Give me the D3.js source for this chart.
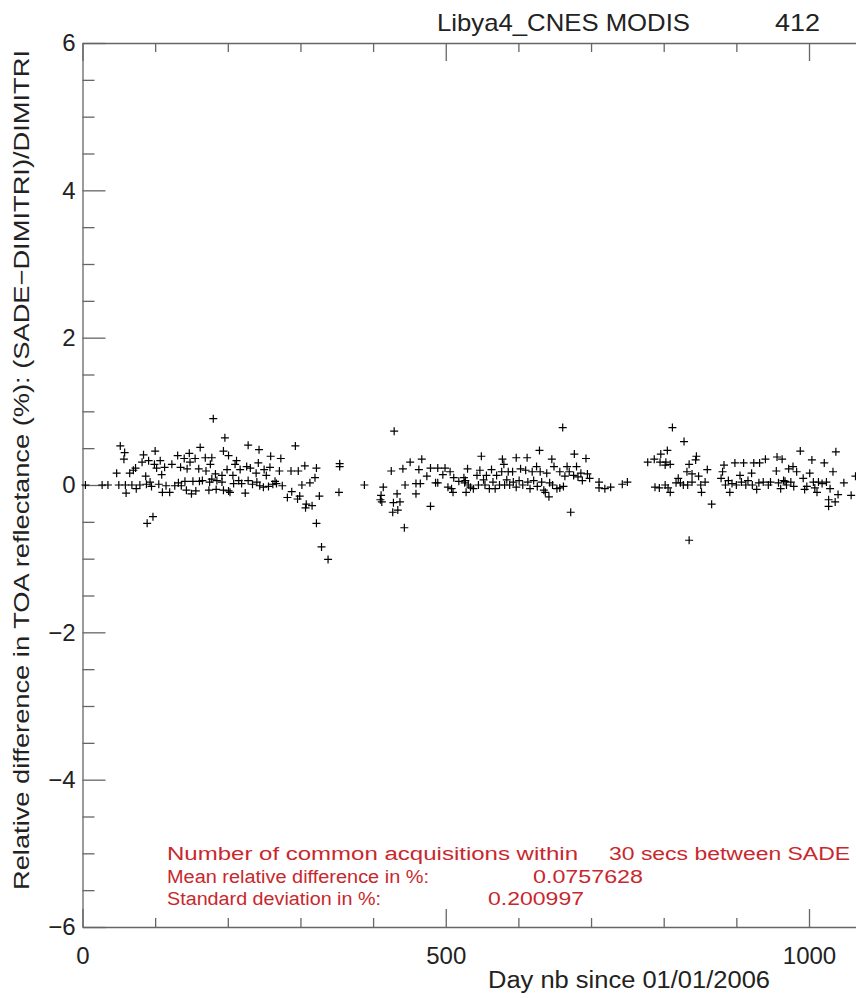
<!DOCTYPE html>
<html>
<head>
<meta charset="utf-8">
<script src="https://cdn.jsdelivr.net/npm/d3@7"></script>
<style>
  body { margin: 0; background: #fff; }
  svg { display: block; overflow: hidden; }
  text { font-family: "Liberation Sans", Arial, sans-serif; fill: #222; }
  .axis path, .axis line { stroke: #666; stroke-width: 1.3px; }
  .note text { fill: #c8282d; }
</style>
</head>
<body>
<script>
// ---- data ----
var days = [
  4, 27, 35, 52, 58, 57, 47, 50, 59, 60, 65, 68, 70, 73, 74, 79, 82, 84, 87, 88, 91, 89, 97, 93, 95,
  100, 99, 102, 107, 105, 109, 110, 113, 115, 120, 123, 127, 131, 132, 135, 136, 140, 141, 143, 144,
  147, 148, 150, 152, 156, 155, 162, 160, 161, 165, 169, 170, 174, 175,
  180, 196, 194, 201, 178, 176, 183, 178, 185, 184, 192, 192, 194, 199, 201, 203, 207, 208, 210, 212,
  215, 217, 219, 224, 226, 228, 228, 231, 234, 239, 240, 242, 243, 244, 249, 250, 253, 256, 258, 259,
  262, 265, 267, 271, 273, 275, 282, 287, 288, 293, 296, 299, 297, 302, 306, 308, 307, 313, 316, 320,
  322, 322, 326, 329, 338, 354, 354, 353,
  388, 429, 425, 441, 451, 467, 463, 414, 411, 410, 412, 433, 428, 437, 427, 434, 444, 443, 459, 465,
  459, 474, 479, 479, 489, 499, 486, 489, 496, 503, 506, 508, 511, 510, 518, 525, 526, 528, 530, 531,
  527, 534, 538, 543, 545, 549, 547, 552, 554, 556, 560, 563, 565, 568, 570, 574, 577, 578, 580, 581,
  584, 586, 588, 592, 593, 597, 597, 601, 603, 606, 610, 612, 613, 616, 619, 621, 625, 626, 629, 630,
  632, 635, 637, 639, 642, 643, 646, 647, 649, 653, 657, 657, 661, 662, 664, 667, 670, 672, 676, 677,
  680, 682, 686, 688, 693, 695, 698, 711, 711, 719, 727, 743, 750,
  778, 787, 796, 795, 803, 805, 802, 809, 812, 828, 835, 788, 794, 802, 806, 809, 817, 820, 823, 827,
  832, 835, 833, 839, 839, 844, 845, 848, 851, 852, 857, 860, 866, 879, 881, 883, 885, 889, 891, 894,
  898, 900, 905, 907, 910, 913, 916, 921, 922, 924, 928, 931, 932, 937, 940, 944, 947, 955, 956, 958,
  961, 963, 965, 967, 969, 972, 975, 978, 979, 983, 988, 992, 994, 997, 1001, 1004, 1006, 1008, 1011, 1013,
  1018, 1021, 1024, 1027, 1027, 1029, 1033, 1036, 1037, 1040, 1048, 1058, 1064
];
var relDiff = [
  0, 0, 0, 0.53, 0.44, 0.35, 0.16, 0, 0, -0.11, 0.16, 0, 0.2, 0.23, -0.05, 0, 0.31, 0.41, 0.12, 0.01, 0.33, -0.52, -0.43, 0.04, -0.02,
  0.46, 0.28, 0.23, 0.33, 0.01, 0.14, -0.1, 0.24, -0.01, -0.1, 0.28, -0.01, 0.4, 0.03, 0.24, -0.01, 0.36, 0.05, -0.07, 0.22,
  0.43, 0.31, -0.12, 0.05, -0.08, 0.36, 0.51, 0.22, 0.05, 0.06, 0.37, 0.19, -0.07, 0.04,
  0.9, 0.64, 0.46, 0.4, 0.37, 0.28, 0.15, 0.08, 0.06, -0.06, 0.13, 0.04, -0.07, 0.21, -0.08, -0.1, 0.13, 0.02, 0.28, 0.33,
  0.06, 0.21, 0.02, -0.11, 0.25, 0.54, 0.06, 0.23, 0.01, 0.16, 0.04, 0.3, 0.48, -0.01, -0.03, 0.21, 0.13, -0.02, 0.24, 0.39,
  0.01, 0.05, 0.02, 0.19, 0.36, -0.01, -0.17, 0.19, -0.09, 0.53, -0.19, -0.15, 0.19, 0, 0.26, -0.26, -0.31, 0.03, -0.28, 0.1,
  0.23, -0.52, -0.15, -0.84, -1.01, 0.29, 0.25, -0.1,
  0, 0.73, 0.19, 0.22, 0.31, 0.35, 0.21, -0.03, -0.14, -0.2, -0.23, -0.12, -0.24, -0.23, -0.37, -0.34, 0, -0.58, 0.02, 0.02,
  -0.12, 0.12, -0.29, 0.23, 0.23, 0.23, 0.03, 0.03, 0.14, -0.03, 0.18, -0.05, 0.1, -0.1, 0.05, 0.1, 0.03, -0.1, 0.22, 0,
  0.06, -0.03, -0.05, 0.13, 0, 0.39, 0.2, 0.07, 0, 0.13, -0.05, 0.21, 0.04, -0.05, 0.13, 0, 0.18, 0.35, 0.28, 0,
  0.07, 0.18, 0, 0.18, 0.04, 0.37, -0.03, 0.06, 0.22, 0, 0.2, 0.37, 0.04, -0.05, 0.18, 0.06, 0.25, -0.02, 0.47, 0.18,
  0.04, -0.07, -0.1, 0.16, -0.16, 0.03, 0.35, 0, 0.25, -0.05, 0.18, -0.04, 0.78, -0.02, 0.12, 0.25, 0.18, -0.37, 0.13, 0.42,
  0.25, 0.11, 0.16, 0.06, 0.36, 0.15, 0.09, 0.04, -0.04, -0.05, -0.03, 0.01, 0.04,
  0.31, 0.35, 0.42, 0.31, 0.31, 0.47, 0.27, 0.28, 0.78, 0.59, -0.75, -0.03, -0.04, 0, -0.04, -0.1, 0.03, 0.09, 0.03, 0,
  0.18, 0.28, 0, 0.15, 0.04, 0.34, 0.39, 0.12, 0, -0.1, 0.04, 0.21, -0.26, 0.09, 0.18, 0.27, 0, 0.06, -0.1, 0.02,
  0.3, 0, 0.13, 0.04, 0.3, 0, 0.06, 0.16, 0, 0.3, -0.06, 0.03, 0.3, 0.04, 0.35, 0, 0.04, 0.19, 0.38, 0.03,
  -0.05, 0.35, 0.06, 0.05, 0, 0.22, 0.04, 0.25, -0.02, 0.18, 0.46, 0.09, -0.06, -0.02, 0.16, 0.34, 0.04, -0.04, -0.1, 0.04,
  0.02, 0.3, 0.04, -0.2, -0.29, -0.05, 0.18, -0.23, 0.45, -0.13, 0.03, -0.14, 0.12
];

var xMajor = [0, 500, 1000];
var yMajor = [-6, -4, -2, 0, 2, 4, 6];

var titleParts = [["Libya4_CNES MODIS", 437, 253], ["412", 775, 45]];
var noteLines = [
  [["Number of common acquisitions within", 167, 411], ["30 secs between SADE", 609, 241]],
  [["Mean relative difference in %:", 167, 262], ["0.0757628", 533, 110]],
  [["Standard deviation in %:", 167, 214], ["0.200997", 488, 96]]
];

(function () {
  'use strict';

  var W = 856, H = 998;
  var plotLeft = 82.5, plotTop = 43, plotBottom = 927;
  var pxPerDay = 0.7265;
  var xMax = 1580;

  var svg = d3.select('body').append('svg')
      .attr('width', W)
      .attr('height', H);

  var x = d3.scaleLinear().domain([0, xMax]).range([plotLeft, plotLeft + xMax * pxPerDay]);
  var y = d3.scaleLinear().domain([-6, 6]).range([plotBottom, plotTop]);

  // minor ticks every 100 days; the plot runs on past the right edge of the picture
  var xMinor = d3.range(100, xMax + 1, 100).filter(d => d % 500 !== 0);
  var yMinor = d3.range(-6, 6.01, 0.5).filter(d => d % 2 !== 0);

  // bottom axis, ticks pointing up into the plot
  svg.append('g').attr('class', 'axis')
      .attr('transform', 'translate(0,' + plotBottom + ')')
      .call(d3.axisBottom(x).tickValues(xMajor).tickSizeInner(-18).tickSizeOuter(0).tickPadding(20).tickFormat(d3.format('d')))
      .call(g => g.selectAll('text').attr('font-size', 24).attr('fill', '#222'));
  svg.append('g').attr('class', 'axis')
      .attr('transform', 'translate(0,' + plotBottom + ')')
      .call(d3.axisBottom(x).tickValues(xMinor).tickSizeInner(-9).tickSizeOuter(0).tickFormat(''))
      .call(g => g.select('.domain').remove());

  // top axis, no labels
  svg.append('g').attr('class', 'axis')
      .attr('transform', 'translate(0,' + plotTop + ')')
      .call(d3.axisTop(x).tickValues(xMajor).tickSizeInner(-18).tickSizeOuter(0).tickFormat(''));
  svg.append('g').attr('class', 'axis')
      .attr('transform', 'translate(0,' + plotTop + ')')
      .call(d3.axisTop(x).tickValues(xMinor).tickSizeInner(-9).tickSizeOuter(0).tickFormat(''))
      .call(g => g.select('.domain').remove());

  // left axis, ticks pointing right
  svg.append('g').attr('class', 'axis')
      .attr('transform', 'translate(' + plotLeft + ',0)')
      .call(d3.axisLeft(y).tickValues(yMajor).tickSizeInner(-23).tickSizeOuter(0).tickPadding(7).tickFormat(d3.format('d')))
      .call(g => g.selectAll('text').attr('font-size', 24).attr('fill', '#222'));
  svg.append('g').attr('class', 'axis')
      .attr('transform', 'translate(' + plotLeft + ',0)')
      .call(d3.axisLeft(y).tickValues(yMinor).tickSizeInner(-12).tickSizeOuter(0).tickFormat(''))
      .call(g => g.select('.domain').remove());

  // points drawn as plus signs
  var pts = days.map((d, i) => ({day: d, v: relDiff[i]}));
  svg.append('g')
    .selectAll('path')
    .data(pts)
    .enter().append('path')
      .attr('d', 'M-4,0H4M0,-4V4')
      .attr('transform', d => 'translate(' + x(d.day) + ',' + y(d.v) + ')')
      .attr('stroke', '#000')
      .attr('stroke-width', 1.2)
      .attr('fill', 'none');

  // title
  svg.append('g').selectAll('text')
    .data(titleParts)
    .enter().append('text')
      .attr('x', d => d[1])
      .attr('y', 31)
      .attr('font-size', 24)
      .attr('textLength', d => d[2])
      .attr('lengthAdjust', 'spacingAndGlyphs')
      .text(d => d[0]);

  // axis titles
  svg.append('text')
      .attr('x', 488)
      .attr('y', 988)
      .attr('font-size', 23)
      .attr('textLength', 282)
      .attr('lengthAdjust', 'spacingAndGlyphs')
      .text('Day nb since 01/01/2006');

  svg.append('text')
      .attr('transform', 'translate(29,470) rotate(-90)')
      .attr('text-anchor', 'middle')
      .attr('font-size', 22)
      .attr('textLength', 840)
      .attr('lengthAdjust', 'spacingAndGlyphs')
      .text('Relative difference in TOA reflectance (%): (SADE\u2212DIMITRI)/DIMITRI');

  // red statistics block
  var note = svg.append('g').attr('class', 'note');
  noteLines.forEach(function (line, i) {
    line.forEach(function (seg) {
      note.append('text')
          .attr('x', seg[1])
          .attr('y', 860 + i * 22.5)
          .attr('font-size', 18)
          .attr('textLength', seg[2])
          .attr('lengthAdjust', 'spacingAndGlyphs')
          .text(seg[0]);
    });
  });
})();
</script>
</body>
</html>
